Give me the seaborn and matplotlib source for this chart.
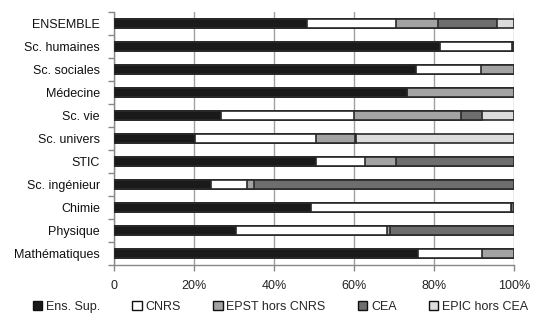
import matplotlib
matplotlib.use("Agg")
import matplotlib.pyplot as plt
import seaborn as sns
import pandas as pd
import numpy as np
from matplotlib.patches import Patch

categories = ["ENSEMBLE", "Sc. humaines", "Sc. sociales", "Médecine", "Sc. vie",
              "Sc. univers", "STIC", "Sc. ingénieur", "Chimie", "Physique", "Mathématiques"]
ens_sup = [48.2, 81.4, 75.6, 73.3, 26.8, 20.4, 50.4, 24.4, 49.3, 30.5, 76.1]
cnrs    = [22.2, 18.0, 16.2, 0.0, 33.2, 30.0, 12.4, 8.8, 50.0, 37.8, 15.8]
epst    = [10.7, 0.0, 8.2, 26.7, 26.8, 9.8, 7.6, 1.8, 0.0, 0.6, 8.1]
cea     = [14.6, 0.6, 0.0, 0.0, 5.3, 0.4, 29.6, 65.0, 0.7, 31.1, 0.0]
epic    = [4.3, 0.0, 0.0, 0.0, 7.9, 39.4, 0.0, 0.0, 0.0, 0.0, 0.0]
series_names = ["Ens. Sup.", "CNRS", "EPST hors CNRS", "CEA", "EPIC hors CEA"]
series_values = [ens_sup, cnrs, epst, cea, epic]
colors = ["#1a1a1a", "#ffffff", "#a3a3a3", "#6e6e6e", "#dcdcdc"]
xticks = [0, 20, 40, 60, 80, 100]
xticklabels = ["0", "20%", "40%", "60%", "80%", "100%"]

sns.set_theme(style="white")
plt.rcParams["font.family"] = ["Liberation Sans", "DejaVu Sans"]
plt.rcParams["font.size"] = 9

fig, ax = plt.subplots(figsize=(5.5, 3.26), dpi=100)
fig.subplots_adjust(left=0.207, right=0.9345, top=0.963, bottom=0.187)

df = pd.DataFrame({"cat": categories})
cum = np.cumsum(np.array(series_values), axis=0)
for i in range(len(series_names) - 1, -1, -1):
    df["v"] = cum[i]
    sns.barplot(data=df, x="v", y="cat", orient="h", color=colors[i],
                saturation=1, width=0.42, edgecolor="#2a2a2a", linewidth=1.2,
                ax=ax, zorder=3)

ax.set_xlim(0, 100)
ax.set_ylim(10.5, -0.5)
ax.set_xlabel("")
ax.set_ylabel("")
ax.set_xticks(xticks)
ax.set_xticklabels(xticklabels, fontsize=9, color="#222222")
ax.tick_params(axis="y", which="major", length=0, pad=10, labelsize=9, labelcolor="#111111")
ax.set_yticks(np.arange(-0.5, 11, 1), minor=True)
ax.tick_params(axis="y", which="minor", length=4, color="#888888", width=1, direction="out", left=True)
ax.tick_params(axis="x", which="major", length=4, color="#888888", width=1, direction="out", bottom=True, pad=6.5)
ax.grid(axis="x", color="#a0a0a0", linewidth=1, zorder=0)
ax.set_axisbelow(True)
for s in ["top", "right"]:
    ax.spines[s].set_visible(False)
for s in ["left", "bottom"]:
    ax.spines[s].set_color("#888888")
    ax.spines[s].set_linewidth(1)

handles = [Patch(facecolor=c, edgecolor="#111111", linewidth=1.0) for c in colors]
fig.legend(handles, series_names, loc="center", bbox_to_anchor=(0.51, 0.059), ncol=5,
           frameon=False, fontsize=9, handlelength=0.75, handleheight=0.75,
           handletextpad=0.3, columnspacing=2.58)

fig.savefig("out.png", dpi=100)
